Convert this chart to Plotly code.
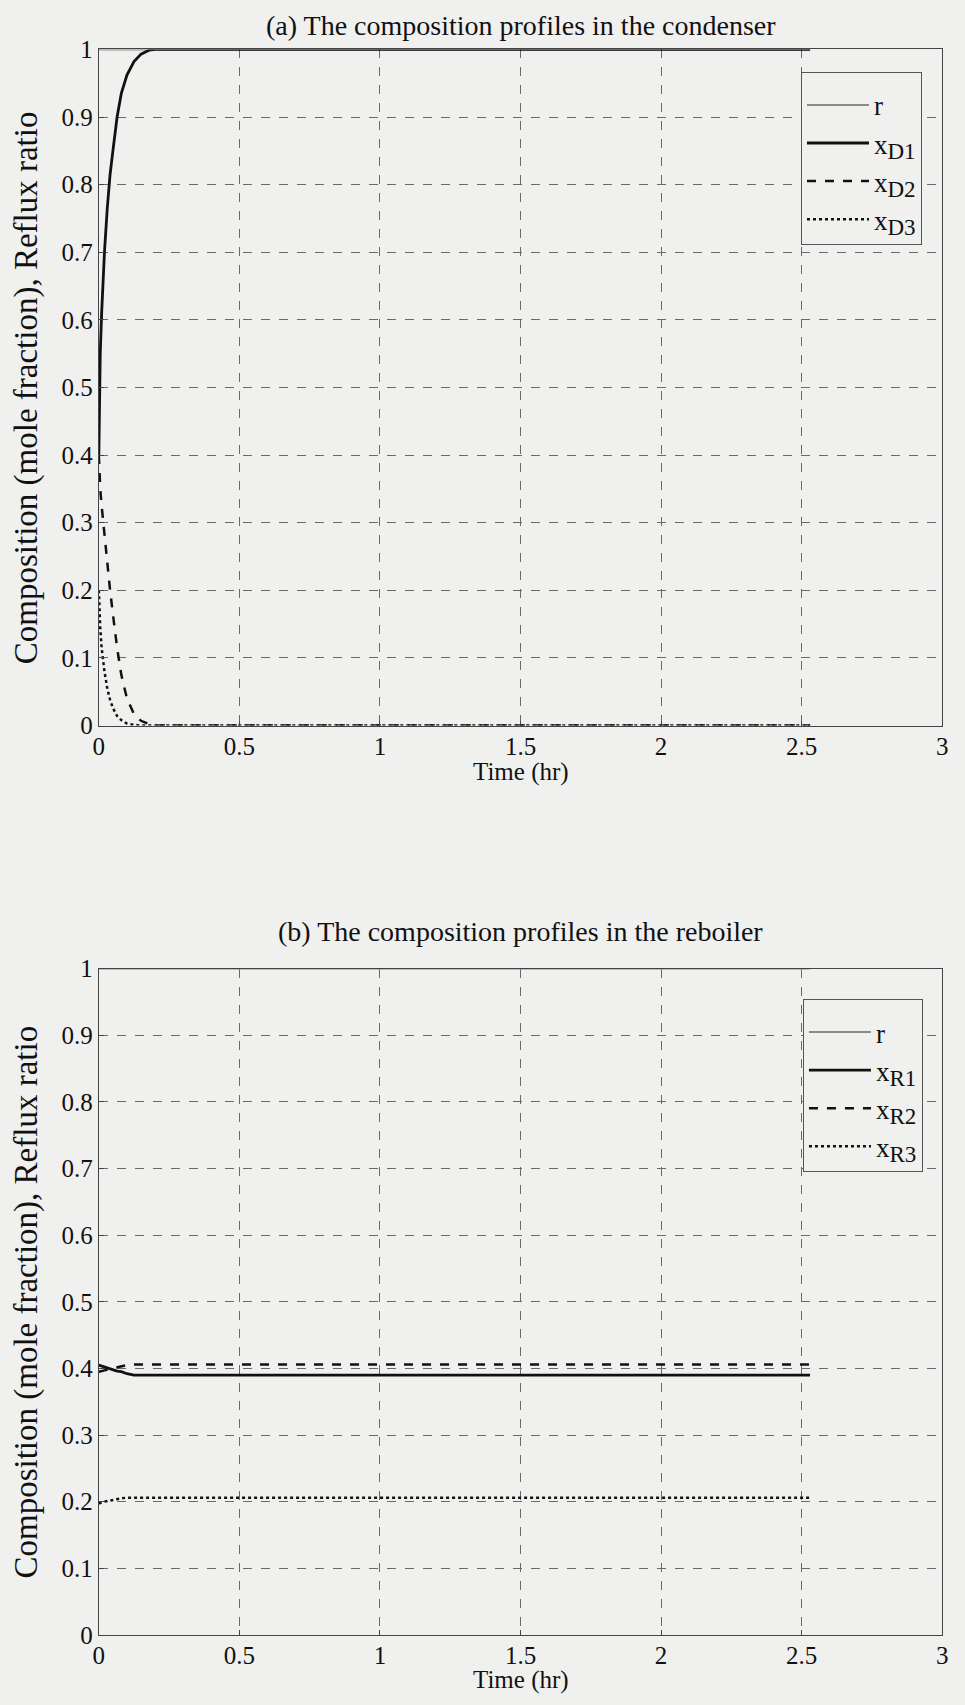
import plotly.graph_objects as go

# ---------------- data ----------------
t = [0, 0.002, 0.005, 0.01, 0.02, 0.03, 0.04, 0.05, 0.065, 0.08, 0.1, 0.125,
     0.15, 0.18, 0.2, 0.25, 0.5, 1.0, 1.5, 2.0, 2.53]

r_time = [0, 2.53]
r_vals = [1.0, 1.0]

xD1 = [0.40, 0.47, 0.55, 0.61, 0.70, 0.765, 0.815, 0.85, 0.90, 0.935, 0.962, 0.982,
       0.993, 0.999, 1.0, 1.0, 1.0, 1.0, 1.0, 1.0, 1.0]
xD2 = [0.40, 0.37, 0.35, 0.325, 0.28, 0.24, 0.20, 0.165, 0.115, 0.075, 0.04, 0.017,
       0.007, 0.002, 0.0, 0.0, 0.0, 0.0, 0.0, 0.0, 0.0]
xD3 = [0.20, 0.17, 0.145, 0.115, 0.08, 0.055, 0.038, 0.026, 0.014, 0.008, 0.003, 0.001,
       0.0, 0.0, 0.0, 0.0, 0.0, 0.0, 0.0, 0.0, 0.0]

xR1 = [0.405, 0.4047, 0.4042, 0.4035, 0.402, 0.4005, 0.399, 0.398, 0.396, 0.395, 0.392, 0.390,
       0.390, 0.390, 0.390, 0.390, 0.390, 0.390, 0.390, 0.390, 0.390]
xR2 = [0.395, 0.3953, 0.3958, 0.3965, 0.397, 0.398, 0.399, 0.400, 0.4015, 0.403, 0.405, 0.406,
       0.406, 0.406, 0.406, 0.406, 0.406, 0.406, 0.406, 0.406, 0.406]
xR3 = [0.197, 0.1975, 0.198, 0.199, 0.200, 0.201, 0.202, 0.203, 0.204, 0.205, 0.206, 0.206,
       0.206, 0.206, 0.206, 0.206, 0.206, 0.206, 0.206, 0.206, 0.206]

x_ticks = [0, 0.5, 1, 1.5, 2, 2.5, 3]
x_tick_labels = ["0", "0.5", "1", "1.5", "2", "2.5", "3"]
y_ticks = [0, 0.1, 0.2, 0.3, 0.4, 0.5, 0.6, 0.7, 0.8, 0.9, 1]
y_tick_labels = ["0", "0.1", "0.2", "0.3", "0.4", "0.5", "0.6", "0.7", "0.8", "0.9", "1"]

SUB = "<sub><span style='font-size:23px'>%s</span></sub>"
top_names = ["r", "x" + SUB % "D1", "x" + SUB % "D2", "x" + SUB % "D3"]
bot_names = ["r", "x" + SUB % "R1", "x" + SUB % "R2", "x" + SUB % "R3"]

title_a = "(a) The composition profiles in the condenser"
title_b = "(b) The composition profiles in the reboiler"
x_title = "Time (hr)"
y_title = "Composition (mole fraction), Reflux ratio"

# ---------------- style ----------------
FONT = "Liberation Serif, Times New Roman, serif"
BG = "#f0f0ef"
W, H = 965, 1705

def py(px):
    return 1 - px / H

x_dom = [94 / W, 948 / W]
top_dom = [py(724), py(37)]
bot_dom = [py(1648), py(971)]

fig = go.Figure()

styles = [
    dict(color="#8a8a8a", width=2, dash="solid"),
    dict(color="#111111", width=2.8, dash="solid"),
    dict(color="#111111", width=2.5, dash="dash"),
    dict(color="#111111", width=2.5, dash="dot"),
]

top_series = [(r_time, r_vals), (t, xD1), (t, xD2), (t, xD3)]
bot_series = [(r_time, r_vals), (t, xR1), (t, xR2), (t, xR3)]

for (xs, ys), name, st in zip(top_series, top_names, styles):
    fig.add_trace(go.Scatter(x=xs, y=ys, mode="lines", name=name, line=st,
                             xaxis="x", yaxis="y", legend="legend"))
for (xs, ys), name, st in zip(bot_series, bot_names, styles):
    fig.add_trace(go.Scatter(x=xs, y=ys, mode="lines", name=name, line=st,
                             xaxis="x2", yaxis="y2", legend="legend2"))

axis_common = dict(
    showgrid=True, gridcolor="#6a6a6a", griddash="dash", gridwidth=1,
    showline=True, linecolor="#444444", linewidth=1, mirror=True,
    ticks="inside", ticklen=5, tickcolor="#444444",
    zeroline=False,
    tickfont=dict(family=FONT, size=25, color="#111111"),
)

legend_common = dict(
    xanchor="left", yanchor="top",
    bgcolor=BG, bordercolor="#555555", borderwidth=1,
    font=dict(family=FONT, size=27, color="#111111"),
    itemwidth=62, tracegroupgap=0,
    title=dict(text=" ", font=dict(size=6)),
)

fig.update_layout(
    width=W, height=H,
    margin=dict(l=0, r=0, t=0, b=0),
    paper_bgcolor=BG, plot_bgcolor=BG,
    font=dict(family=FONT, color="#111111"),
    showlegend=True,
    xaxis=dict(domain=x_dom, range=[0, 3], tickvals=x_ticks, ticktext=x_tick_labels,
               anchor="y", ticklabelstandoff=-2, **axis_common),
    yaxis=dict(domain=top_dom, range=[0, 1], tickvals=y_ticks, ticktext=y_tick_labels,
               anchor="x", ticklabelstandoff=0, **axis_common),
    xaxis2=dict(domain=x_dom, range=[0, 3], tickvals=x_ticks, ticktext=x_tick_labels,
                anchor="y2", ticklabelstandoff=-2, **axis_common),
    yaxis2=dict(domain=bot_dom, range=[0, 1], tickvals=y_ticks, ticktext=y_tick_labels,
                anchor="x2", ticklabelstandoff=0, **axis_common),
    legend=dict(x=805 / W, y=py(60), **legend_common),
    legend2=dict(x=807 / W, y=py(1002), **legend_common),
)

xc = 0.5 * (x_dom[0] + x_dom[1])
annotations = [
    dict(text=title_a, x=xc, y=py(13), font=dict(family=FONT, size=28, color="#111111")),
    dict(text=title_b, x=xc, y=py(933), font=dict(family=FONT, size=28, color="#111111")),
    dict(text=x_title, x=xc, y=py(771), font=dict(family=FONT, size=25, color="#111111")),
    dict(text=x_title, x=xc, y=py(1694), font=dict(family=FONT, size=25, color="#111111")),
    dict(text=y_title, x=21 / W, y=0.5 * (top_dom[0] + top_dom[1]), textangle=-90,
         font=dict(family=FONT, size=33, color="#111111")),
    dict(text=y_title, x=21 / W, y=0.5 * (bot_dom[0] + bot_dom[1]), textangle=-90,
         font=dict(family=FONT, size=33, color="#111111")),
]
for a in annotations:
    a.update(xref="paper", yref="paper", showarrow=False, xanchor="center", yanchor="middle")
fig.update_layout(annotations=annotations)

fig.write_html("out.html")
